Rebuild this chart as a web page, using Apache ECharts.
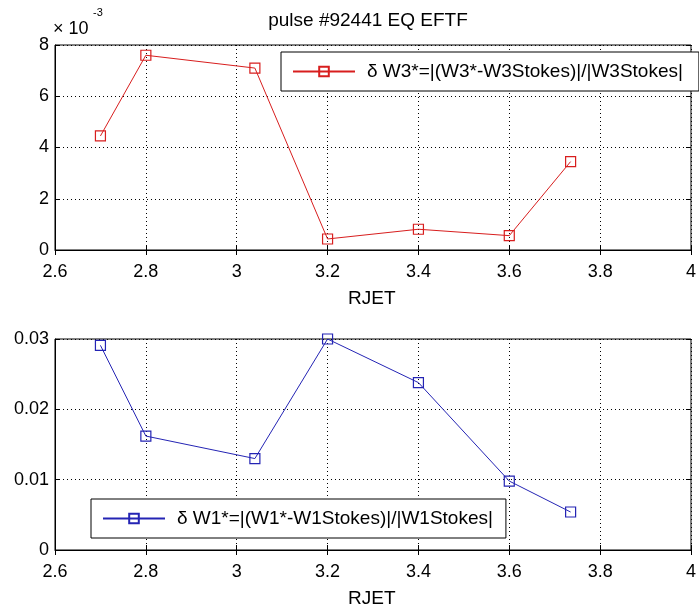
<!DOCTYPE html>
<html>
<head>
<meta charset="utf-8">
<script src="https://cdn.jsdelivr.net/npm/echarts@6/dist/echarts.min.js"></script>
<style>
  html, body { margin: 0; padding: 0; background: #fff; }
  #chart { width: 699px; height: 611px; }
</style>
</head>
<body>
<div id="chart"></div>
<script>
// RJET positions shared by both panels
const rjet = [2.7, 2.8, 3.04, 3.2, 3.4, 3.6, 3.735];
// Relative W3* deviation
const deltaW3 = [0.00445, 0.0076, 0.0071, 0.00043, 0.00081, 0.00056, 0.00345];
// Relative W1* deviation
const deltaW1 = [0.0291, 0.0162, 0.0130, 0.0300, 0.0238, 0.0098, 0.0054];

const titleText = 'pulse #92441 EQ EFTF';
const xName = 'RJET';
const nameW3 = 'δ W3*=|(W3*-W3Stokes)|/|W3Stokes|';
const nameW1 = 'δ W1*=|(W1*-W1Stokes)|/|W1Stokes|';

const RED = '#d81e1e';
const BLUE = '#2424b4';
const FONT = 'Liberation Sans, Arial, sans-serif';

function pairs(xs, ys) { return xs.map((x, i) => [x, ys[i]]); }

const dotted = { color: '#000', width: 1, type: [1, 3] };

function bottomX(gridIndex) {
  return {
    type: 'value', gridIndex, min: 2.6, max: 4, interval: 0.2,
    axisLine: { show: true, lineStyle: { color: '#000' } },
    axisTick: { show: true, inside: true, length: 5, lineStyle: { color: '#000' } },
    axisLabel: { color: '#000', fontSize: 18, fontFamily: FONT, margin: 13 },
    splitLine: { show: true, lineStyle: dotted }
  };
}
function topX(gridIndex) {
  return {
    type: 'value', gridIndex, position: 'top', min: 2.6, max: 4, interval: 0.2,
    axisLine: { show: false },
    axisTick: { show: true, inside: true, length: 5, lineStyle: { color: '#000' } },
    axisLabel: { show: false }, splitLine: { show: false }
  };
}
function leftY(gridIndex, max, interval, fmt) {
  return {
    type: 'value', gridIndex, min: 0, max, interval,
    axisLine: { show: true, lineStyle: { color: '#000' } },
    axisTick: { show: true, inside: true, length: 5, lineStyle: { color: '#000' } },
    axisLabel: { color: '#000', fontSize: 18, fontFamily: FONT, margin: 6, formatter: fmt },
    splitLine: { show: true, lineStyle: dotted }
  };
}
function rightY(gridIndex, max, interval) {
  return {
    type: 'value', gridIndex, position: 'right', min: 0, max, interval,
    axisLine: { show: false },
    axisTick: { show: true, inside: true, length: 5, lineStyle: { color: '#000' } },
    axisLabel: { show: false }, splitLine: { show: false }
  };
}
function legendBox(name, left, top, padRight) {
  return {
    data: [name], left, top, orient: 'horizontal',
    backgroundColor: '#fff', borderColor: '#000', borderWidth: 1,
    padding: [10, padRight, 10, 11],
    itemWidth: 62, itemHeight: 12,
    textStyle: { color: '#000', fontSize: 19, fontFamily: FONT, padding: [0, 0, 0, 7] }
  };
}
function lineSeries(name, data, color, xi, yi) {
  return {
    type: 'line', name, data, xAxisIndex: xi, yAxisIndex: yi,
    symbol: 'rect', symbolSize: 10,
    lineStyle: { color, width: 1 },
    itemStyle: { color: 'rgba(0,0,0,0)', borderColor: color, borderWidth: 1.2 },
    emphasis: { disabled: true }, animation: false
  };
}

const chart = echarts.init(document.getElementById('chart'), null, { renderer: 'canvas' });
chart.setOption({
  backgroundColor: '#fff',
  animation: false,
  grid: [
    { left: 55, top: 45, width: 638, height: 205, show: true, borderColor: '#000', borderWidth: 1, backgroundColor: 'transparent' },
    { left: 55, top: 339, width: 638, height: 211, show: true, borderColor: '#000', borderWidth: 1, backgroundColor: 'transparent' }
  ],
  xAxis: [bottomX(0), topX(0), bottomX(1), topX(1)],
  yAxis: [
    leftY(0, 0.008, 0.002, v => String(Math.round(v * 1000))),
    rightY(0, 0.008, 0.002),
    leftY(1, 0.03, 0.01),
    rightY(1, 0.03, 0.01)
  ],
  legend: [legendBox(nameW3, 281, 52, 16), legendBox(nameW1, 91, 499, 13)],
  series: [
    lineSeries(nameW3, pairs(rjet, deltaW3), RED, 0, 0),
    lineSeries(nameW1, pairs(rjet, deltaW1), BLUE, 2, 2)
  ],
  graphic: [
    { type: 'text', x: 368, y: 11, style: { text: titleText, fontSize: 19, fontFamily: FONT, fill: '#000', textAlign: 'center', textVerticalAlign: 'top' } },
    { type: 'text', x: 53, y: 20, style: { text: '× 10', fontSize: 18, fontFamily: FONT, fill: '#000' } },
    { type: 'text', x: 93, y: 7, style: { text: '-3', fontSize: 11, fontFamily: FONT, fill: '#000' } },
    { type: 'text', x: 348, y: 289, style: { text: xName, fontSize: 19, fontFamily: FONT, fill: '#000' } },
    { type: 'text', x: 348, y: 589, style: { text: xName, fontSize: 19, fontFamily: FONT, fill: '#000' } }
  ]
});
</script>
</body>
</html>
